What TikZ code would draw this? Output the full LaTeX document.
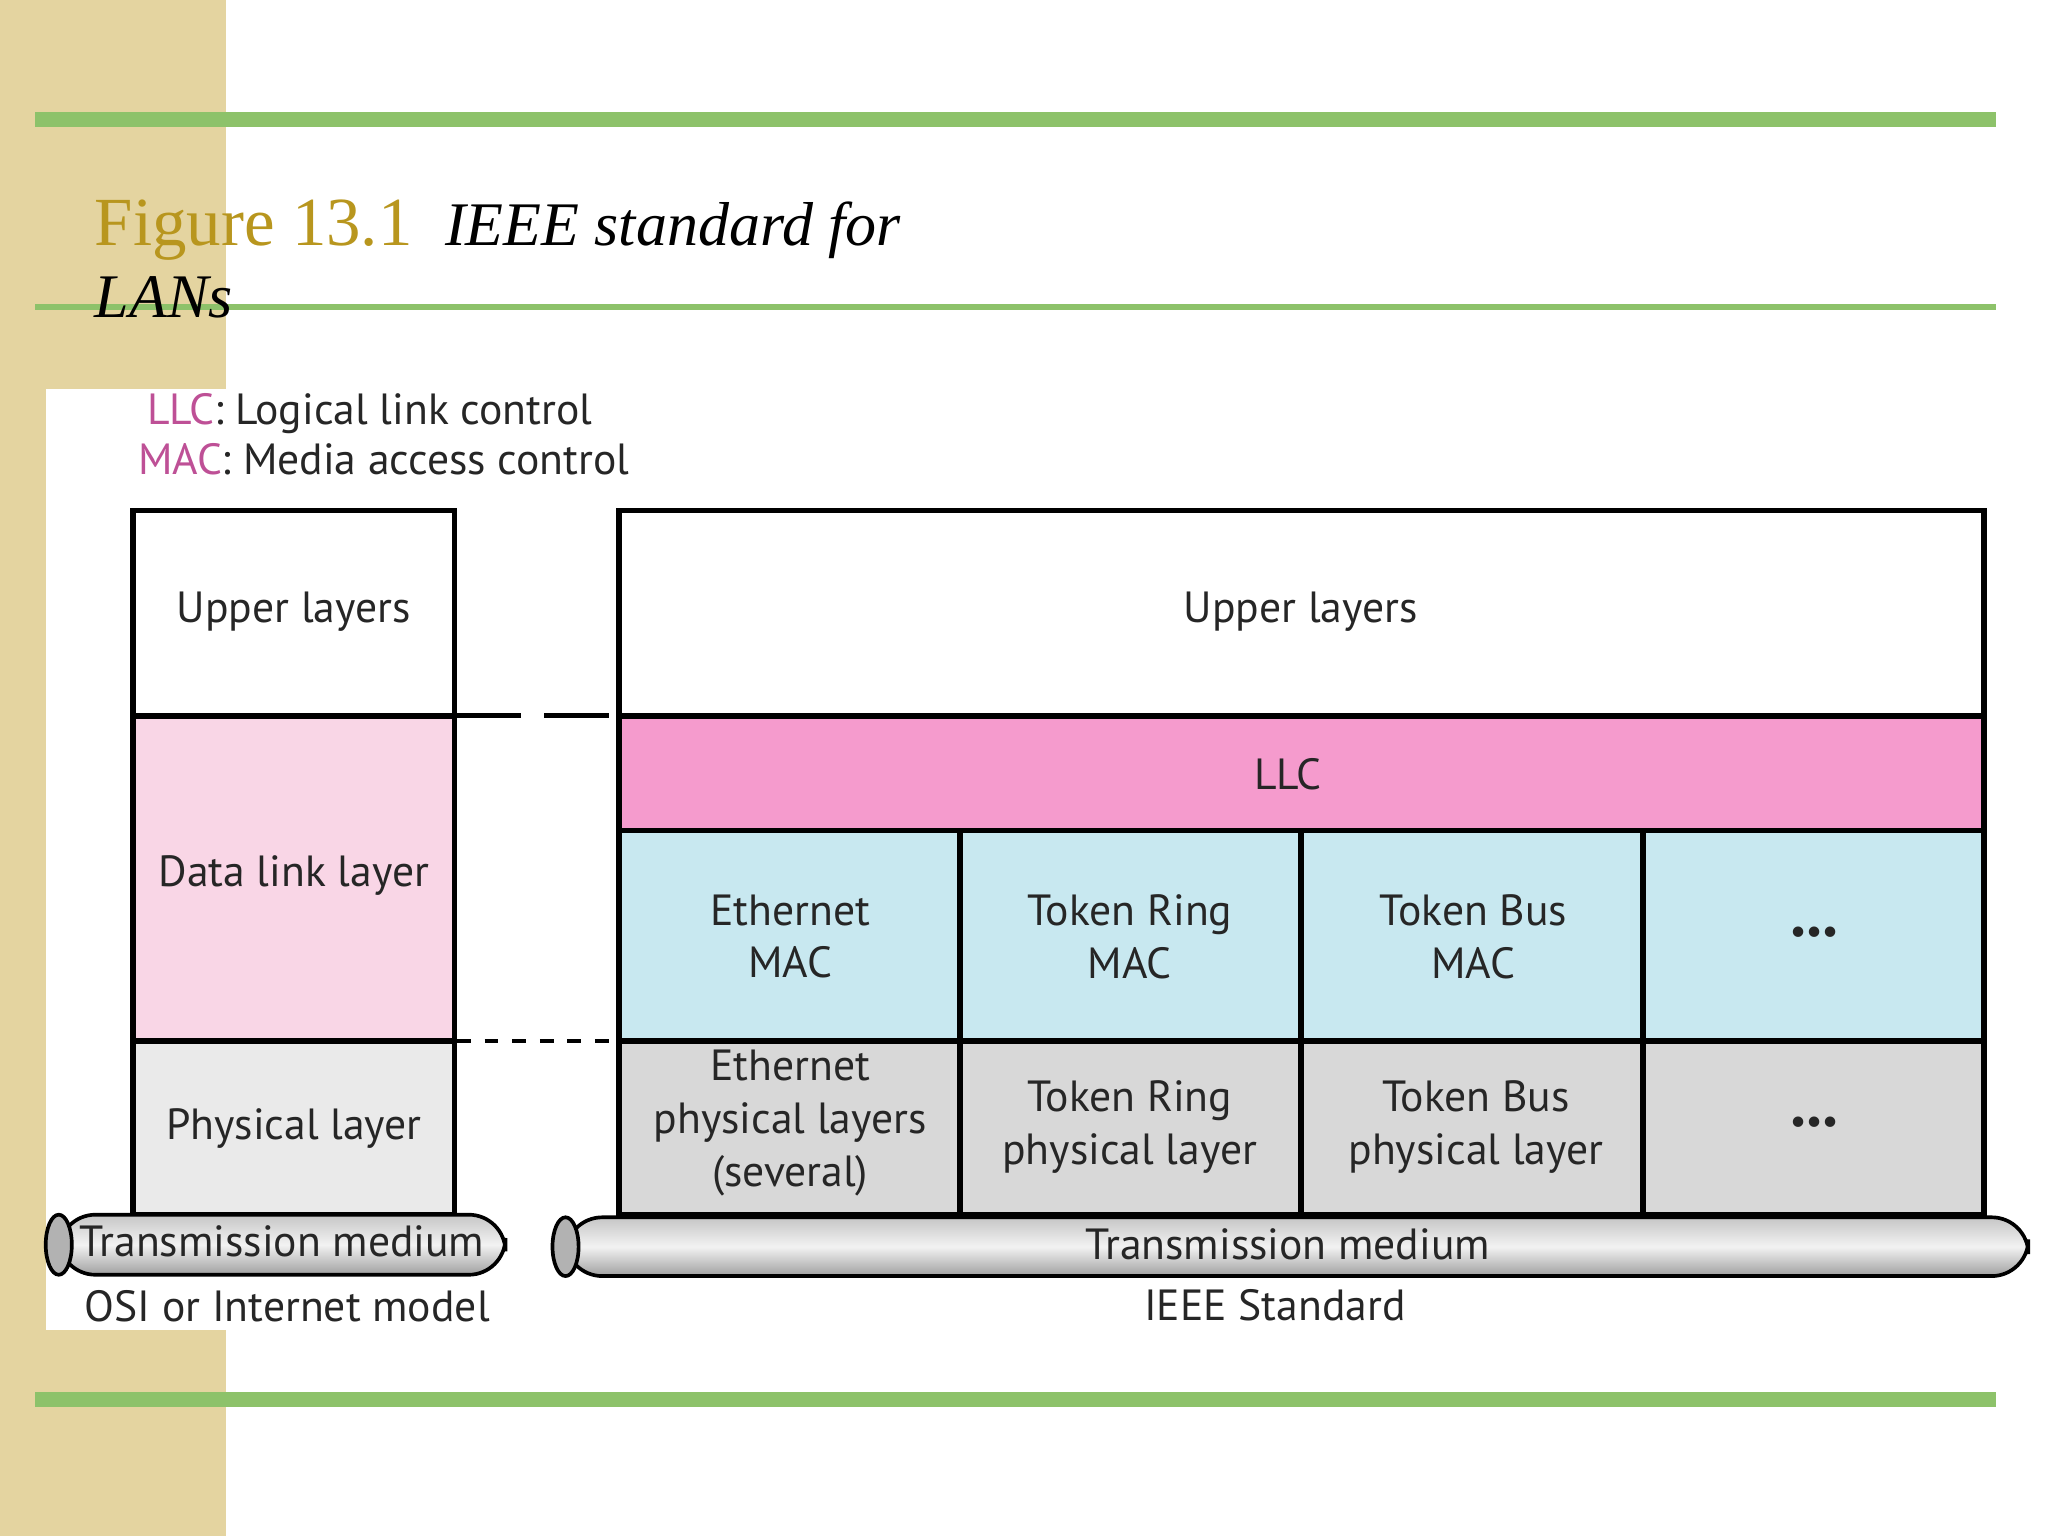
\documentclass[tikz,border=0pt]{standalone}
\usepackage{fontspec}
\setmainfont{Liberation Serif}
\newfontfamily\dsans{PT Sans}
\begin{document}
\definecolor{beige}{RGB}{228,212,160}
\definecolor{grn}{RGB}{141,194,106}
\definecolor{gold}{RGB}{184,150,30}
\definecolor{dlpink}{RGB}{249,214,230}
\definecolor{llcpink}{RGB}{245,155,205}
\definecolor{macblue}{RGB}{200,232,240}
\definecolor{phgray}{RGB}{216,216,216}
\definecolor{lgray}{RGB}{234,234,234}
\definecolor{magt}{RGB}{190,80,150}
\begin{tikzpicture}[x=0.01cm,y=-0.01cm,
  box/.style={draw=black,line width=1.2pt},
  lbl/.style={font=\dsans\fontsize{9.5}{11.5}\selectfont,align=center,text=black!85},
  cyl/.style={draw=black,line width=0.8pt,top color=gray!45,bottom color=gray!75,middle color=gray!10}]
\useasboundingbox (0,0) rectangle (1568,1176);
\fill[beige] (0,0) rectangle (173,1176);
\fill[white] (35,298) rectangle (175,1018);
\fill[grn] (27,86) rectangle (1528,97);
\fill[grn] (27,233) rectangle (1528,237);
\fill[grn] (27,1066) rectangle (1528,1077);
\node[anchor=base west,text=gold,font=\fontsize{15}{18}\selectfont,inner sep=0] (fig) at (72,188) {Figure 13.1};
\node[anchor=base west,font=\itshape\fontsize{13.5}{16}\selectfont,inner sep=0] (ttl) at (340,188) {IEEE standard for};
\node[anchor=base west,font=\itshape\fontsize{13.5}{16}\selectfont,inner sep=0] (lans) at (72,243) {LANs};
\node[anchor=base west,lbl,inner sep=0] (l1) at (112,325) {\textcolor{magt}{LLC}: Logical link control};
\node[anchor=base west,lbl,inner sep=0] (l2) at (105,363) {\textcolor{magt}{MAC}: Media access control};
% left column
\draw[box,fill=white] (102,391) rectangle (348,548);
\draw[box,fill=dlpink] (102,548) rectangle (348,797);
\draw[box,fill=lgray] (102,797) rectangle (348,930);
\node[lbl] (ul) at (225,468) {Upper layers};
\node[lbl] (dl) at (225,670) {Data link layer};
\node[lbl] (pl) at (225,864) {Physical layer};
\draw[dashed,line width=1pt,dash pattern=on 14pt off 5pt] (350,548) -- (472,548);
\draw[dashed,line width=1pt] (350,797) -- (472,797);
% right
\draw[box,fill=white] (474,391) rectangle (1519,548);
\draw[box,fill=llcpink] (474,548) rectangle (1519,636);
\foreach \a/\b in {474/735,735/996,996/1258,1258/1519}{
  \draw[box,fill=macblue] (\a,636) rectangle (\b,797);
  \draw[box,fill=phgray] (\a,797) rectangle (\b,930);}
\node[lbl] (ru) at (996,468) {Upper layers};
\node[lbl] (llc) at (986,593) {LLC};
\node[lbl] (m1) at (605,717) {Ethernet\\MAC};
\node[lbl] (m2) at (865,717) {Token Ring\\MAC};
\node[lbl] (m3) at (1128,717) {Token Bus\\MAC};
\node[lbl,font=\bfseries\fontsize{14}{14}\selectfont] (m4) at (1389,714) {...};
\node[lbl] (p1) at (605,860) {Ethernet\\physical layers\\(several)};
\node[lbl] (p2) at (865,863) {Token Ring\\physical layer};
\node[lbl] (p3) at (1130,863) {Token Bus\\physical layer};
\node[lbl,font=\bfseries\fontsize{14}{14}\selectfont] (p4) at (1389,859) {...};
% cylinders
\draw[cyl,rounded corners=8pt] (45,930) rectangle (387,976);
\draw[line width=0.8pt,fill=gray!60] (45,953) ellipse (10 and 23);
\draw[cyl,rounded corners=8pt] (433,932) rectangle (1553,977);
\draw[line width=0.8pt,fill=gray!60] (433,954.5) ellipse (10 and 22.5);
\node[lbl] (tm1) at (216,950) {Transmission medium};
\node[lbl] (tm2) at (986,953) {Transmission medium};
\node[lbl] (osi) at (220,1000) {OSI or Internet model};
\node[lbl] (ieee) at (976,999) {IEEE Standard};
\end{tikzpicture}
\end{document}
